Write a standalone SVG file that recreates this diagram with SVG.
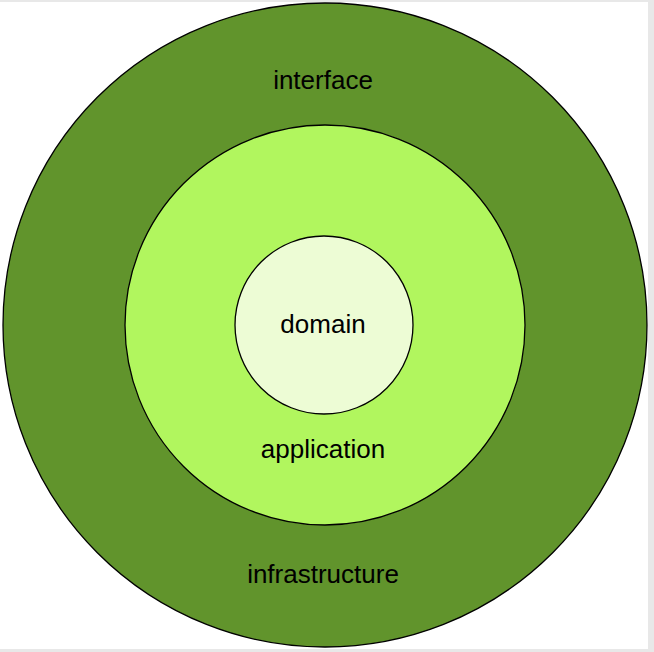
<svg xmlns="http://www.w3.org/2000/svg" width="654" height="652" viewBox="0 0 654 652">
<style>
.ring{stroke:#000;stroke-width:1.3}
.lbl{font-family:"Liberation Sans",Arial,sans-serif;font-size:26px;fill:#000;text-anchor:middle}
</style>
<rect x="0" y="0" width="654" height="652" fill="#e8e8e8"/>
<rect x="0" y="2" width="648" height="647" fill="#ffffff"/>
<g id="infrastructure">
<circle class="ring" cx="325" cy="325" r="322" fill="#61942c"/>
<text class="lbl" x="323" y="89">interface</text>
<text class="lbl" x="323" y="583">infrastructure</text>
</g>
<g id="application">
<circle class="ring" cx="325" cy="325" r="200" fill="#b1f65e"/>
<text class="lbl" x="323" y="458">application</text>
</g>
<g id="domain">
<circle class="ring" cx="324" cy="325" r="89" fill="#edfcd5"/>
<text class="lbl" x="323" y="333">domain</text>
</g>
<g id="connectors"/>
</svg>
